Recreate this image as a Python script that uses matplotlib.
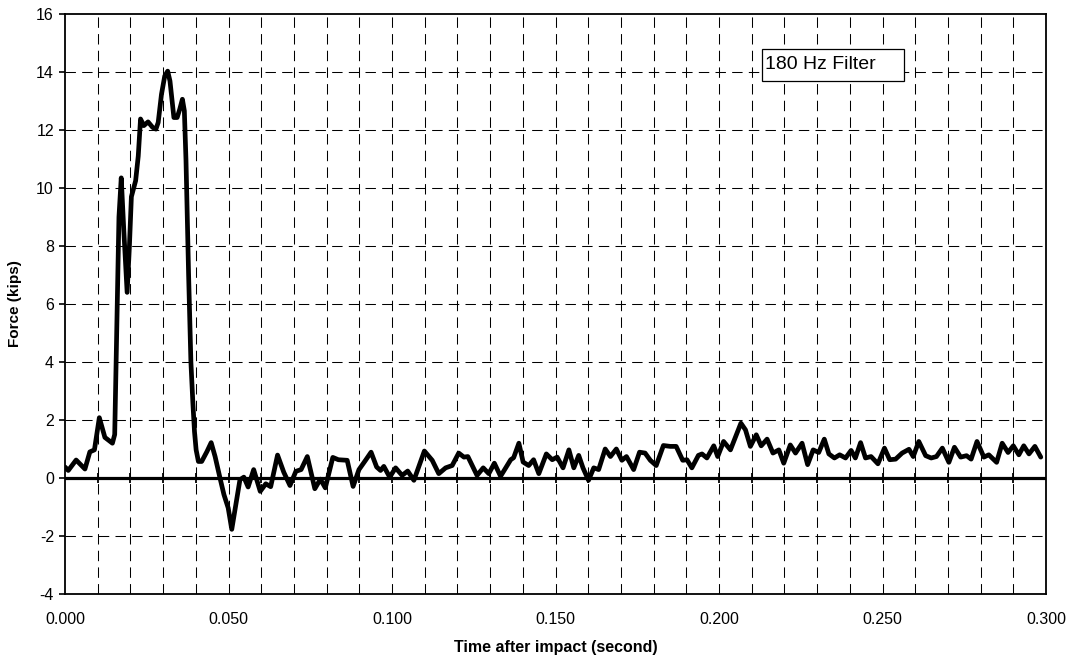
import matplotlib
matplotlib.use("Agg")
import matplotlib.pyplot as plt
from matplotlib.patches import Rectangle
import numpy as np

plt.rcParams['font.family'] = ['Liberation Sans', 'DejaVu Sans']
plt.rcParams['axes.unicode_minus'] = False

# Impact force record (180 Hz filtered)
time_s = [
    0.0000, 0.0010, 0.0034, 0.0061, 0.0076, 0.0090, 0.0105, 0.0122, 0.0145, 0.0152,
    0.0158, 0.0165, 0.0172, 0.0180, 0.0190, 0.0197, 0.0203, 0.0216, 0.0224, 0.0231,
    0.0241, 0.0254, 0.0268, 0.0278, 0.0285, 0.0295, 0.0305, 0.0314, 0.0321, 0.0333,
    0.0343, 0.0351, 0.0359, 0.0365, 0.0370, 0.0378, 0.0385, 0.0391, 0.0396, 0.0401,
    0.0408, 0.0418, 0.0434, 0.0447, 0.0459, 0.0474, 0.0486, 0.0499, 0.0510, 0.0520,
    0.0535, 0.0547, 0.0560, 0.0577, 0.0597, 0.0614, 0.0629, 0.0650, 0.0669, 0.0688,
    0.0706, 0.0722, 0.0741, 0.0764, 0.0781, 0.0796, 0.0819, 0.0836, 0.0863, 0.0881,
    0.0899, 0.0919, 0.0936, 0.0953, 0.0965, 0.0975, 0.0993, 0.1011, 0.1031, 0.1048,
    0.1067, 0.1099, 0.1123, 0.1143, 0.1164, 0.1184, 0.1204, 0.1220, 0.1232, 0.1260,
    0.1279, 0.1296, 0.1313, 0.1332, 0.1363, 0.1372, 0.1388, 0.1401, 0.1418, 0.1433,
    0.1449, 0.1472, 0.1490, 0.1505, 0.1523, 0.1541, 0.1556, 0.1571, 0.1584, 0.1601,
    0.1617, 0.1632, 0.1652, 0.1668, 0.1686, 0.1703, 0.1717, 0.1739, 0.1757, 0.1774,
    0.1790, 0.1808, 0.1830, 0.1851, 0.1869, 0.1889, 0.1902, 0.1917, 0.1937, 0.1948,
    0.1963, 0.1984, 0.1996, 0.2014, 0.2035, 0.2055, 0.2067, 0.2081, 0.2096, 0.2114,
    0.2129, 0.2147, 0.2165, 0.2183, 0.2198, 0.2218, 0.2234, 0.2254, 0.2271, 0.2288,
    0.2305, 0.2322, 0.2336, 0.2353, 0.2369, 0.2387, 0.2404, 0.2417, 0.2433, 0.2448,
    0.2465, 0.2486, 0.2506, 0.2522, 0.2540, 0.2560, 0.2581, 0.2594, 0.2611, 0.2632,
    0.2649, 0.2665, 0.2683, 0.2703, 0.2720, 0.2739, 0.2757, 0.2771, 0.2789, 0.2810,
    0.2825, 0.2849, 0.2866, 0.2884, 0.2900, 0.2917, 0.2932, 0.2948, 0.2966, 0.2984,
]
force_kips = [
    0.38, 0.26, 0.62, 0.31, 0.90, 0.97, 2.08, 1.40, 1.20, 1.50,
    5.00, 9.00, 10.35, 8.50, 6.40, 8.00, 9.70, 10.25, 11.10, 12.38,
    12.15, 12.28, 12.09, 12.03, 12.26, 13.23, 13.86, 14.03, 13.69, 12.43,
    12.43, 12.72, 13.06, 12.66, 10.95, 7.00, 4.00, 2.60, 1.60, 0.97,
    0.57, 0.57, 0.91, 1.22, 0.74, 0.00, -0.57, -1.03, -1.77, -1.09,
    -0.06, 0.03, -0.31, 0.29, -0.46, -0.20, -0.30, 0.79, 0.20, -0.26,
    0.23, 0.29, 0.74, -0.37, -0.04, -0.34, 0.71, 0.63, 0.61, -0.29,
    0.29, 0.61, 0.89, 0.38, 0.26, 0.40, 0.03, 0.35, 0.09, 0.24,
    -0.08, 0.93, 0.61, 0.15, 0.35, 0.43, 0.86, 0.72, 0.74, 0.09,
    0.35, 0.15, 0.51, 0.06, 0.63, 0.70, 1.20, 0.55, 0.43, 0.63,
    0.15, 0.83, 0.63, 0.72, 0.35, 0.97, 0.35, 0.78, 0.35, -0.08,
    0.35, 0.29, 1.00, 0.74, 1.00, 0.61, 0.74, 0.29, 0.89, 0.86,
    0.61, 0.43, 1.12, 1.09, 1.09, 0.61, 0.63, 0.35, 0.78, 0.83,
    0.69, 1.11, 0.74, 1.26, 0.97, 1.54, 1.89, 1.66, 1.09, 1.49,
    1.11, 1.34, 0.86, 0.97, 0.51, 1.14, 0.86, 1.20, 0.46, 0.97,
    0.88, 1.34, 0.83, 0.69, 0.80, 0.69, 0.95, 0.69, 1.22, 0.69,
    0.74, 0.49, 1.03, 0.63, 0.65, 0.86, 0.99, 0.74, 1.26, 0.77,
    0.69, 0.74, 1.03, 0.54, 1.06, 0.72, 0.77, 0.65, 1.26, 0.72,
    0.80, 0.54, 1.20, 0.88, 1.11, 0.80, 1.11, 0.83, 1.09, 0.72,
]

x_label_ticks = [0.0, 0.05, 0.10, 0.15, 0.20, 0.25, 0.30]
x_grid = [round(0.01 * i, 2) for i in range(1, 30)]
y_ticks = [-4, -2, 0, 2, 4, 6, 8, 10, 12, 14, 16]
filter_note = "180 Hz Filter"

fig = plt.figure(figsize=(10.73, 6.60), dpi=100)
ax = fig.add_axes([65 / 1073, 1 - 594 / 660, 981 / 1073, 580 / 660])

ax.set_xlim(0, 0.30)
ax.set_ylim(-4, 16)

grid_style = dict(color='black', linewidth=0.75, linestyle=(0, (10, 6)), zorder=1)
for gx in x_grid:
    ax.axvline(gx, **grid_style)
for gy in y_ticks:
    if gy not in (-4, 0, 16):
        ax.axhline(gy, **grid_style)

# heavy zero line with crossing tick marks
ax.axhline(0, color='black', linewidth=2.3, zorder=2)
ax.plot(x_grid, np.zeros(len(x_grid)), linestyle='none', marker='|',
        markersize=7, markeredgewidth=1.3, color='black', zorder=2)

ax.plot(time_s, force_kips, color='black', linewidth=3.4,
        solid_joinstyle='round', solid_capstyle='round', zorder=3)

ax.set_xticks(x_label_ticks)
ax.set_xticklabels([f"{v:.3f}" for v in x_label_ticks])
ax.set_yticks(y_ticks)
ax.tick_params(axis='x', length=0, pad=13, labelsize=11.5)
ax.tick_params(axis='y', direction='out', length=4, width=1.2, pad=4, labelsize=11.5)

for sp in ax.spines.values():
    sp.set_linewidth(1.3)
    sp.set_color('black')

ax.set_xlabel("Time after impact (second)", fontsize=11.5, fontweight='bold', labelpad=9)
ax.set_ylabel("Force (kips)", fontsize=11, fontweight='bold', labelpad=10)

ax.add_patch(Rectangle((0.7105, 0.8845), 0.1445, 0.0552, transform=ax.transAxes,
                       facecolor='white', edgecolor='black', linewidth=0.9, zorder=4))
ax.text(0.7135, 0.913, filter_note, transform=ax.transAxes, fontsize=14,
        va='center', ha='left', zorder=5)

fig.savefig("out.png", dpi=100)
